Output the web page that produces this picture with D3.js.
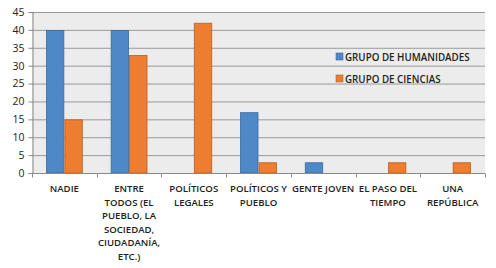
<!DOCTYPE html>
<html>
<head>
<meta charset="utf-8">
<script src="https://cdn.jsdelivr.net/npm/d3@7"></script>
<style>
  body { margin: 0; background: #fff; }
  text { font-family: 'Open Sans', Lato, sans-serif; fill: #222; }
</style>
</head>
<body>
<div id="chart"></div>
<script>
const categories = [
  ['NADIE'],
  ['ENTRE', 'TODOS (EL', 'PUEBLO, LA', 'SOCIEDAD,', 'CIUDADANÍA,', 'ETC.)'],
  ['POLÍTICOS', 'LEGALES'],
  ['POLÍTICOS Y', 'PUEBLO'],
  ['GENTE JOVEN'],
  ['EL PASO DEL', 'TIEMPO'],
  ['UNA', 'REPÚBLICA']
]
const seriesNames = ['GRUPO DE HUMANIDADES', 'GRUPO DE CIENCIAS']
const humanidades = [40, 40, 0, 17, 3, 0, 0]
const ciencias = [15, 33, 42, 3, 0, 3, 3]
const yTicks = [0, 5, 10, 15, 20, 25, 30, 35, 40, 45]

const colors = ['#4f88c6', '#ed7d31']
const strokes = ['#3a6a9e', '#b85f22']

const W = 496, H = 268
const margin = { top: 12, right: 11, bottom: 95, left: 32 }
const width = W - margin.left - margin.right
const height = H - margin.top - margin.bottom

const svg = d3.select('#chart').append('svg')
  .attr('width', W).attr('height', H)
const g = svg.append('g')
  .attr('transform', `translate(${margin.left},${margin.top})`)

const idx = categories.map((c, i) => i)
const x = d3.scaleBand().domain(idx).range([0, width]).paddingInner(0.43).paddingOuter(0.215)
const x1 = d3.scaleBand().domain([0, 1]).range([0, x.bandwidth()])
const y = d3.scaleLinear().domain([0, 45]).range([height, 0])

g.append('rect').attr('width', width).attr('height', height).attr('fill', '#ececec')

g.append('g').selectAll('line').data(yTicks.slice(1)).join('line')
  .attr('x1', 0).attr('x2', width)
  .attr('y1', d => y(d) + 0.5).attr('y2', d => y(d) + 0.5)
  .attr('stroke', '#9a9a9a').attr('stroke-width', 1)

const rows = idx.map(i => ({ i, vals: [humanidades[i], ciencias[i]] }))
g.append('g').selectAll('g').data(rows).join('g')
  .attr('transform', d => `translate(${x(d.i)},0)`)
  .selectAll('rect').data(d => d.vals.map((v, s) => ({ v, s })).filter(d => d.v > 0)).join('rect')
  .attr('x', d => x1(d.s) + 0.5)
  .attr('y', d => y(d.v) + 0.5)
  .attr('width', x1.bandwidth() - 1)
  .attr('height', d => height - y(d.v) - 0.5)
  .attr('fill', d => colors[d.s])
  .attr('stroke', d => strokes[d.s])
  .attr('stroke-width', 0.8)

// y axis
const yAxis = g.append('g').attr('transform', 'translate(0.5,0)')
  .call(d3.axisLeft(y).tickValues(yTicks).tickSize(4).tickPadding(4))
yAxis.select('.domain').attr('stroke', '#888')
yAxis.selectAll('.tick line').attr('stroke', '#888')
yAxis.selectAll('text').attr('font-size', 10.5).attr('fill', '#222')
  .style('font-family', "'Open Sans', sans-serif")

// x axis line and ticks at category boundaries
const xb = g.append('g').attr('transform', `translate(0,${height + 0.5})`)
xb.append('line').attr('x1', 0).attr('x2', width).attr('stroke', '#888')
xb.selectAll('line.t').data(d3.range(categories.length + 1)).join('line').attr('class', 't')
  .attr('x1', d => Math.round(d * width / categories.length) + 0.5)
  .attr('x2', d => Math.round(d * width / categories.length) + 0.5)
  .attr('y1', 0).attr('y2', 4).attr('stroke', '#888')

const labels = g.append('g').selectAll('text').data(idx).join('text')
  .attr('x', i => x(i) + x.bandwidth() / 2)
  .attr('y', height + 19)
  .attr('text-anchor', 'middle')
  .attr('font-size', 9.6)
  .attr('font-weight', 600)
labels.selectAll('tspan').data(i => categories[i].map(t => ({ t, i }))).join('tspan')
  .attr('x', d => x(d.i) + x.bandwidth() / 2)
  .attr('dy', (d, j) => j === 0 ? 0 : 13.6)
  .text(d => d.t)

// legend
const lg = svg.append('g').attr('transform', 'translate(336,53)')
seriesNames.forEach((name, s) => {
  const row = lg.append('g').attr('transform', `translate(0,${s * 22})`)
  row.append('rect').attr('width', 7).attr('height', 7)
    .attr('fill', colors[s]).attr('stroke', strokes[s]).attr('stroke-width', 0.6)
  row.append('text').attr('x', 9).attr('y', 7.5).attr('font-size', 9.8).attr('font-weight', 600).text(name)
})
</script>
</body>
</html>
